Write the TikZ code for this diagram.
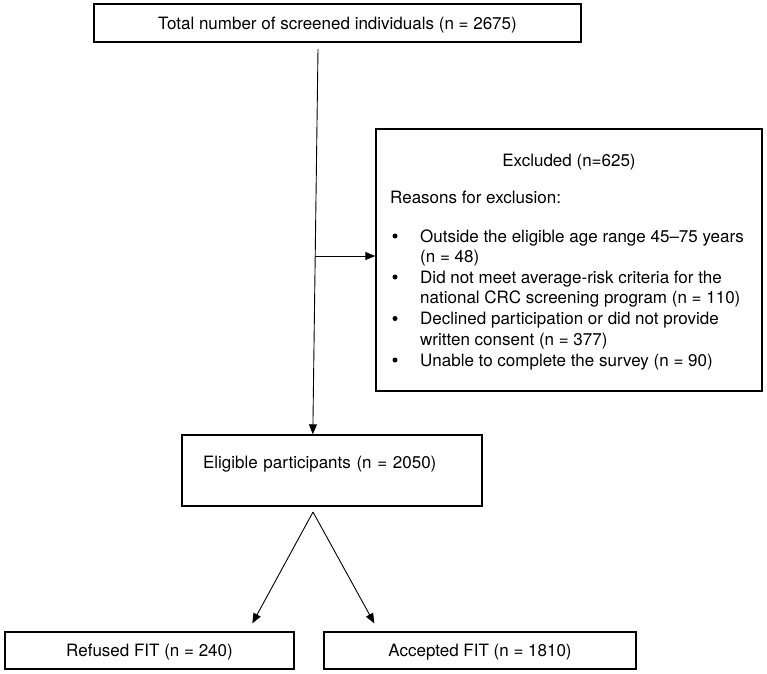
\documentclass[tikz,border=0pt]{standalone}
\usepackage{fontspec}
\setmainfont{TeX Gyre Heros}
\usetikzlibrary{arrows.meta,calc}
\begin{document}
\begin{tikzpicture}[x=1pt,y=-1pt,
  box/.style={draw=black, line width=1.4pt, inner sep=0pt, font=\fontsize{17}{20.5}\selectfont},
  txt/.style={inner sep=0pt, anchor=base west, font=\fontsize{17}{20.5}\selectfont},
  ctr/.style={inner sep=0pt, anchor=base, font=\fontsize{17}{20.5}\selectfont},
  bul/.style={circle, fill=black, inner sep=0pt, minimum size=5pt},
  conn/.style={line width=0.9pt, -{Triangle[length=10pt,width=8pt]}}
  ]
\useasboundingbox (0,0) rectangle (767,673);
% boxes
\node[box, minimum width=487pt, minimum height=38pt, text height=13pt, text depth=1pt] (total) at (337.5,23) {Total number of screened individuals (n = 2675)};
\node[box, minimum width=386pt, minimum height=262pt] (excl) at (569,260) {};
\node[box, minimum height=71pt, text width=258pt, inner xsep=21pt, align=left, text height=8pt, text depth=13pt] (elig) at (332,470.5) {Eligible participants (n = 2050)};
\node[box, minimum width=289pt, minimum height=37pt, text height=12pt, text depth=1pt] (ref) at (149.5,650.5) {Refused FIT (n = 240)};
\node[box, minimum width=312pt, minimum height=37pt, text height=12pt, text depth=1pt] (acc) at (480,650.5) {Accepted FIT (n = 1810)};
% excluded contents
\node[ctr] (exT) at (569,166) {Excluded (n=625)};
\node[txt] (exR) at (390,203) {Reasons for exclusion:};
\node[bul] (b1) at (395,236) {};
\node[txt] (l1a) at (420,242) {Outside the eligible age range 45–75 years};
\node[txt] (l1b) at (420,262.5) {(n = 48)};
\node[bul] (b2) at (395,277) {};
\node[txt] (l2a) at (420,283) {Did not meet average-risk criteria for the};
\node[txt] (l2b) at (420,303.5) {national CRC screening program (n = 110)};
\node[bul] (b3) at (395,318.5) {};
\node[txt] (l3a) at (420,324.5) {Declined participation or did not provide};
\node[txt] (l3b) at (420,345) {written consent (n = 377)};
\node[bul] (b4) at (395,360) {};
\node[txt] (l4a) at (420,366) {Unable to complete the survey (n = 90)};
% connectors
\coordinate (vtop) at (318,49);
\draw[conn] (vtop) -- ($(elig.north west)+(131.5,0)$);
\coordinate (hstart) at (315.3,256);
\draw[conn] (hstart) -- (hstart -| excl.west);
\coordinate (apex) at (313,512);
\draw[conn, shorten >=9pt] (apex) -- ($(ref.north west)+(243.7,0)$);
\draw[conn, shorten >=9pt] (apex) -- ($(acc.north west)+(55.4,0)$);
\end{tikzpicture}
\end{document}
